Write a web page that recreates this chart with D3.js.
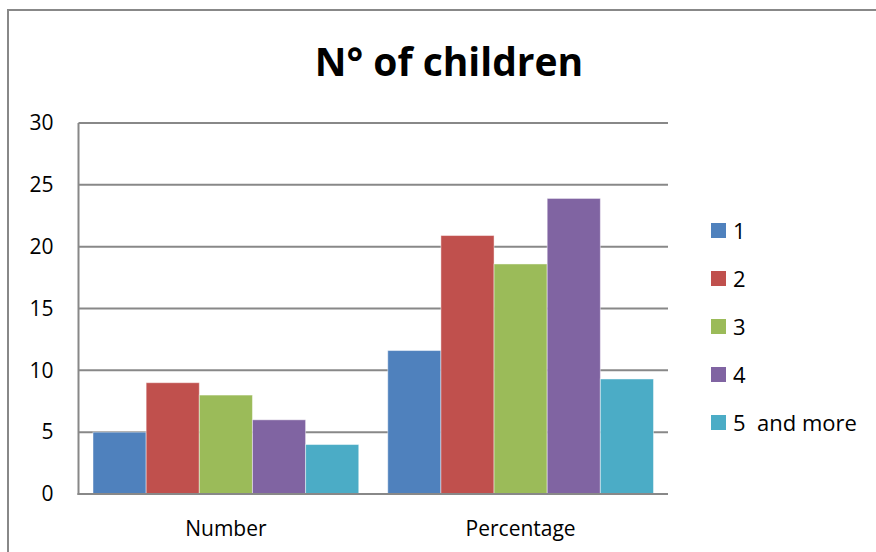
<!DOCTYPE html>
<html>
<head>
<meta charset="utf-8">
<script src="https://cdn.jsdelivr.net/npm/d3@7"></script>
<style>
  html, body { margin: 0; padding: 0; background: #fff; }
  svg { display: block; }
  text { font-family: "Open Sans", "Noto Sans", sans-serif; fill: #000; }
</style>
</head>
<body>
<svg id="chart" width="876" height="552"></svg>
<script>
// Chart data
const groups = ["Number", "Percentage"];
const seriesNames = ["1", "2", "3", "4", "5  and more"];
const seriesColors = ["#4F81BD", "#C0504D", "#9BBB59", "#8064A2", "#4BACC6"];
const numberValues = [5, 9, 8, 6, 4];
const percentageValues = [11.6, 20.9, 18.6, 23.9, 9.3];
const yTicks = [0, 5, 10, 15, 20, 25, 30];
const titleText = "N° of children";

const valuesByGroup = [numberValues, percentageValues];

const svg = d3.select("#chart");
const W = 876, H = 552;
const plot = { left: 78.5, right: 668, top: 123, bottom: 494 };
const gridColor = "#888888";

// Outer chart frame
svg.append("rect")
  .attr("x", 8).attr("y", 10)
  .attr("width", W + 20).attr("height", H + 20)
  .attr("fill", "#fff")
  .attr("stroke", gridColor).attr("stroke-width", 2);

// Scales
const y = d3.scaleLinear().domain([0, 30]).range([plot.bottom, plot.top]);
const x0 = d3.scaleBand().domain(groups).range([plot.left, plot.right]).paddingInner(0).paddingOuter(0);
const x1 = d3.scaleBand().domain(seriesNames).range([0, x0.bandwidth()]).paddingInner(0).paddingOuter(0.273);

// Gridlines
svg.append("g")
  .selectAll("line")
  .data(yTicks)
  .join("line")
  .attr("x1", plot.left).attr("x2", plot.right)
  .attr("y1", d => y(d)).attr("y2", d => y(d))
  .attr("stroke", gridColor).attr("stroke-width", 2);

// Y axis labels
const yAxis = d3.axisLeft(y).tickValues(yTicks).tickSize(0).tickPadding(25);
const yg = svg.append("g").attr("transform", `translate(${plot.left},0)`).call(yAxis);
yg.select(".domain").remove();
yg.selectAll("text")
  .attr("font-family", '"Open Sans", sans-serif')
  .attr("font-size", 21)
  .attr("fill", "#000");

// Bars
const gGroups = svg.append("g")
  .selectAll("g")
  .data(groups.map((g, i) => ({ group: g, values: valuesByGroup[i] })))
  .join("g")
  .attr("transform", d => `translate(${x0(d.group)},0)`);

gGroups.selectAll("rect")
  .data(d => d.values.map((v, i) => ({ name: seriesNames[i], value: v, color: seriesColors[i] })))
  .join("rect")
  .attr("x", d => x1(d.name))
  .attr("y", d => y(d.value))
  .attr("width", x1.bandwidth())
  .attr("height", d => y(0) - y(d.value))
  .attr("fill", d => d.color)
  .attr("stroke", "rgba(255,255,255,0.45)")
  .attr("stroke-width", 1);

// Axis lines
svg.append("line")
  .attr("x1", plot.left).attr("x2", plot.left)
  .attr("y1", plot.top).attr("y2", plot.bottom + 1)
  .attr("stroke", gridColor).attr("stroke-width", 2);
svg.append("line")
  .attr("x1", plot.left - 1).attr("x2", plot.right)
  .attr("y1", plot.bottom).attr("y2", plot.bottom)
  .attr("stroke", gridColor).attr("stroke-width", 2);

// X axis labels
const xAxis = d3.axisBottom(x0).tickSize(0).tickPadding(27);
const xg = svg.append("g").attr("transform", `translate(0,${plot.bottom})`).call(xAxis);
xg.select(".domain").remove();
xg.selectAll("text")
  .attr("font-family", '"Open Sans", sans-serif')
  .attr("font-size", 21)
  .attr("fill", "#000");

// Title
svg.append("text")
  .attr("x", 449).attr("y", 76)
  .attr("text-anchor", "middle")
  .attr("font-size", 39)
  .attr("font-weight", "bold")
  .text(titleText);

// Legend
const legend = svg.append("g")
  .selectAll("g")
  .data(seriesNames.map((n, i) => ({ name: n, color: seriesColors[i] })))
  .join("g")
  .attr("transform", (d, i) => `translate(711,${223 + i * 48})`);
legend.append("rect")
  .attr("width", 15).attr("height", 15)
  .attr("fill", d => d.color);
legend.append("text")
  .attr("x", 22).attr("y", 8)
  .attr("dy", "0.35em")
  .attr("font-size", 22)
  .attr("xml:space", "preserve")
  .style("white-space", "pre")
  .text(d => d.name);
</script>
</body>
</html>
